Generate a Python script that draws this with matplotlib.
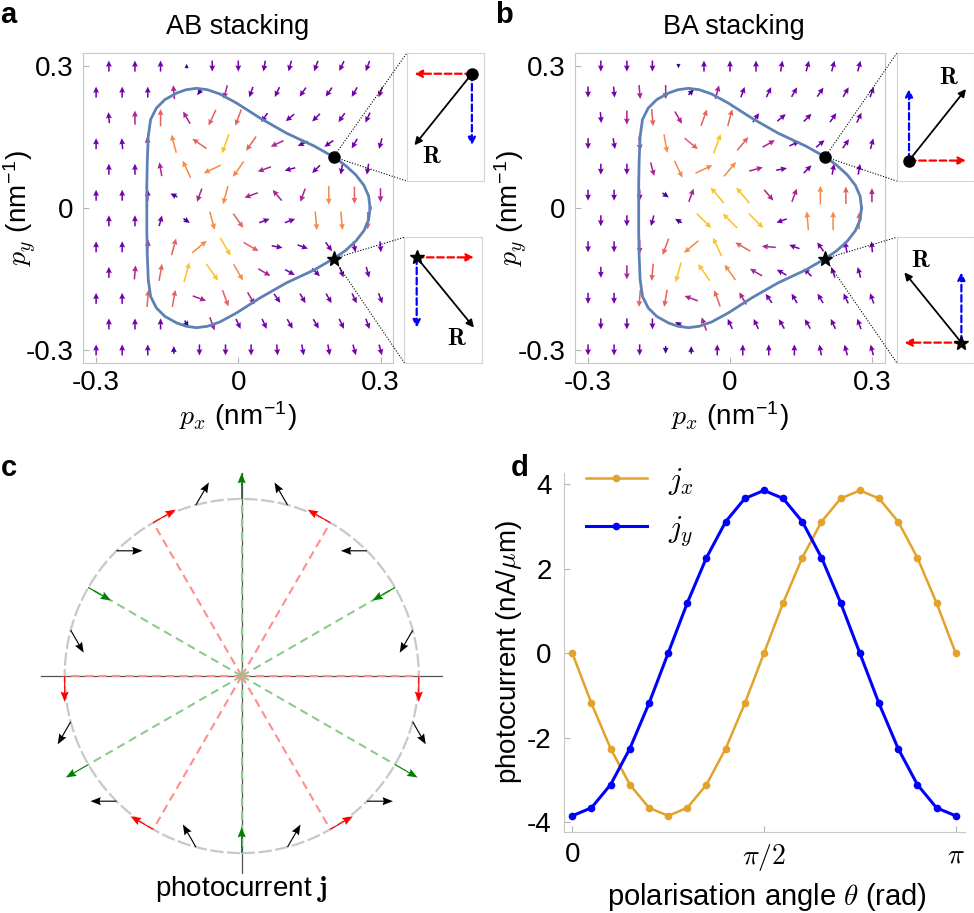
import numpy as np
import matplotlib
matplotlib.use('Agg')
import matplotlib.pyplot as plt
from matplotlib.patches import FancyArrowPatch, Circle

plt.rcParams['font.family'] = ['Liberation Sans', 'DejaVu Sans']
plt.rcParams['mathtext.fontset'] = 'cm'

W, H = 974, 913

# colour level of each arrow
t, b, P, M, R, O, Y = 0.03, 0.10, 0.22, 0.38, 0.60, 0.72, 0.87

# staggered sampling grid of panels a and b (rows from top to bottom)
row_y = [0.3, 0.245, 0.191, 0.136, 0.082, 0.027, -0.027, -0.082, -0.136, -0.191, -0.245, -0.3]
even_x = [-0.273, -0.218, -0.164, -0.109, -0.055, 0.0, 0.055, 0.109, 0.164, 0.218, 0.273]
odd_x = [-0.3, -0.245, -0.191, -0.136, -0.082, -0.027, 0.027, 0.082, 0.136, 0.191, 0.245, 0.3]

# arrow directions (deg) for AB stacking
ab_angle = [
    [90, 90, 90, 90, 270, 270, 260, 255, 250, 245, 250],
    [90, 90, 90, 95, 235, 255, 250, 245, 235, 235, 240, 250],
    [95, 90, 90, 120, 245, 250, 235, 220, 225, 235, 245],
    [90, 95, 95, 105, 145, 250, 235, 205, 205, 215, 240, 255],
    [90, 90, 100, 115, 205, 235, 200, 195, 225, 260, 260],
    [90, 90, 90, 155, 250, 255, 200, 130, 250, 270, 270, 270],
    [90, 90, 75, 325, 285, 305, 20, 20, 275, 275, 270],
    [90, 90, 85, 75, 40, 300, 330, 350, 340, 305, 280, 275],
    [90, 85, 80, 75, 305, 300, 330, 330, 315, 290, 285],
    [90, 90, 85, 80, 340, 290, 300, 305, 300, 300, 295, 290],
    [90, 90, 90, 300, 290, 295, 295, 300, 300, 295, 290],
    [90, 90, 90, 90, 270, 270, 270, 275, 280, 280, 285, 285],
]
ab_level = [
    [P, P, P, t, P, P, P, P, P, P, P],
    [P, P, P, M, b, M, P, P, P, P, P, P],
    [P, M, R, M, R, R, P, P, P, P, P],
    [P, P, M, O, R, Y, R, M, P, P, P, P],
    [P, P, M, O, O, O, M, P, P, P, P],
    [P, P, P, b, M, O, M, M, M, O, R, M],
    [P, P, P, b, O, R, P, P, O, O, R],
    [P, P, M, R, O, Y, R, P, P, P, P, P],
    [P, M, R, Y, Y, O, M, P, P, P, P],
    [P, P, R, R, M, R, M, P, P, P, P, P],
    [P, P, P, b, M, P, P, P, P, P, P],
    [P, P, P, b, P, P, P, P, P, P, P, P],
]

# arrow directions (deg) for BA stacking
ba_angle = [
    [270, 270, 270, 270, 90, 90, 90, 80, 75, 75, 75],
    [270, 275, 275, 270, 45, 75, 70, 65, 60, 55, 60, 70],
    [275, 270, 275, 300, 70, 75, 55, 40, 45, 55, 65],
    [270, 280, 275, 280, 320, 70, 50, 30, 25, 40, 55, 75],
    [270, 270, 285, 295, 25, 50, 15, 10, 45, 80, 80],
    [270, 270, 270, 325, 70, 130, 130, 310, 70, 90, 90, 90],
    [270, 270, 255, 150, 315, 135, 315, 200, 95, 90, 90],
    [270, 270, 270, 250, 220, 115, 150, 175, 160, 125, 100, 95],
    [270, 270, 265, 255, 125, 125, 150, 150, 135, 110, 105],
    [270, 270, 265, 260, 160, 110, 120, 125, 120, 120, 115, 110],
    [270, 270, 270, 150, 110, 115, 115, 120, 120, 115, 110],
    [270, 270, 270, 270, 90, 90, 90, 90, 90, 100, 105, 105],
]
ba_level = [
    [P, P, P, t, P, P, P, P, P, P, P],
    [P, P, M, M, b, M, P, P, P, P, P, P],
    [P, M, R, M, R, R, P, P, P, P, P],
    [P, P, M, O, R, Y, R, M, P, P, P, P],
    [P, P, M, O, O, O, M, P, P, P, P],
    [P, P, P, b, M, Y, Y, M, M, O, R, M],
    [P, P, P, b, Y, Y, Y, P, O, O, R],
    [P, P, M, R, O, Y, R, M, P, P, P, P],
    [P, M, R, Y, Y, O, M, P, P, P, P],
    [P, P, R, R, M, R, M, P, P, P, P, P],
    [P, P, P, b, M, P, P, P, P, P, P],
    [P, P, P, b, b, P, P, P, P, P, P, P],
]

# Fermi contour (same in both panels)
contour_x = [0.278, 0.275, 0.265, 0.248, 0.226, 0.201, 0.160, 0.102, 0.046, -0.004, -0.039,
             -0.065, -0.088, -0.110, -0.130, -0.155, -0.173, -0.185, -0.190, -0.192, -0.193,
             -0.193, -0.193, -0.192, -0.190, -0.185, -0.173, -0.155, -0.130, -0.110, -0.088,
             -0.065, -0.039, -0.004, 0.046, 0.102, 0.160, 0.201, 0.226, 0.248, 0.265, 0.275, 0.278]
contour_y = [0.0, 0.025, 0.048, 0.070, 0.090, 0.108, 0.131, 0.158, 0.190, 0.222, 0.241,
             0.250, 0.253, 0.250, 0.243, 0.229, 0.211, 0.187, 0.151, 0.100, 0.050,
             0.0, -0.050, -0.100, -0.151, -0.187, -0.211, -0.229, -0.243, -0.250, -0.253,
             -0.250, -0.241, -0.222, -0.190, -0.158, -0.131, -0.107, -0.090, -0.070, -0.048, -0.025, 0.0]
dot_p = (0.201, 0.108)
star_p = (0.201, -0.107)

# inset sketches: sign of x (red) and y (blue) components of R
inset_sx = [-1, 1, 1, -1]
inset_sy = [-1, -1, 1, 1]
inset_mark = ['o', '*', 'o', '*']

# panel c: polarisation angle on the circle and photocurrent direction (deg)
pol_angle = [0, 15, 30, 45, 60, 75, 90, 105, 120, 135, 150, 165,
             180, 195, 210, 225, 240, 255, 270, 285, 300, 315, 330, 345]
j_dir = [270, 240, 210, 180, 150, 120, 90, 60, 30, 0, 330, 300,
         270, 240, 210, 180, 150, 120, 90, 60, 30, 0, 330, 300]

# panel d: photocurrent vs polarisation angle
theta = np.linspace(0, np.pi, 21)
jx = [0.0, -1.19, -2.26, -3.11, -3.66, -3.85, -3.66, -3.11, -2.26, -1.19, 0.0,
      1.19, 2.26, 3.11, 3.66, 3.85, 3.66, 3.11, 2.26, 1.19, 0.0]
jy = [-3.85, -3.66, -3.11, -2.26, -1.19, 0.0, 1.19, 2.26, 3.11, 3.66, 3.85,
      3.66, 3.11, 2.26, 1.19, 0.0, -1.19, -2.26, -3.11, -3.66, -3.85]

fig = plt.figure(figsize=(W / 100, H / 100), dpi=100)


def px_axes(left, top, width, height):
    # axes placed with pixel coordinates measured from the top-left corner
    return fig.add_axes([left / W, 1 - (top + height) / H, width / W, height / H])


def draw_field(ax, angles, levels):
    xs, ys, us, vs, cs = [], [], [], [], []
    for k, yv in enumerate(row_y):
        cols = even_x if k % 2 == 0 else odd_x
        for xv, a, m in zip(cols, angles[k], levels[k]):
            length = 0.046 * m ** 0.45
            xs.append(xv)
            ys.append(yv)
            us.append(length * np.cos(np.radians(a)))
            vs.append(length * np.sin(np.radians(a)))
            cs.append(plt.cm.plasma(m))
    ax.quiver(xs, ys, us, vs, color=cs, angles='xy', scale_units='xy', scale=1,
              pivot='middle', width=0.005, headwidth=3.8, headlength=4.0,
              headaxislength=3.6, zorder=2)
    ax.plot(contour_x, contour_y, color='#5e81b5', lw=2, zorder=3)
    ax.plot(*dot_p, 'o', color='k', ms=8, zorder=4)
    ax.plot(*star_p, '*', color='k', ms=11, zorder=4)
    ax.set_xlim(-0.327, 0.327)
    ax.set_ylim(-0.327, 0.327)
    ax.set_xticks([-0.3, 0, 0.3])
    ax.set_xticklabels(['-0.3', '0', '0.3'])
    ax.set_yticks([-0.3, 0, 0.3])
    ax.set_yticklabels(['-0.3', '0', '0.3'])
    for s in ax.spines.values():
        s.set_color('#c8c8c8')
    ax.tick_params(direction='in', length=4, color='#b4b4b4', labelsize=20)
    ax.tick_params(axis='x', pad=5)
    ax.tick_params(axis='y', pad=7)


def draw_inset(box, sx, sy, marker):
    ia = px_axes(*box)
    ia.set_xlim(0, 1)
    ia.set_ylim(0, 1)
    ia.set_xticks([])
    ia.set_yticks([])
    for s in ia.spines.values():
        s.set_color('#d4d4d4')
    ox, oy = 0.5 - 0.34 * sx, 0.5 - 0.34 * sy
    rx, ry = 0.74 * sx, 0.56 * sy
    dashed = dict(arrowstyle='-|>', mutation_scale=11, lw=1.6, linestyle=(0, (3, 1.6)),
                  shrinkA=0, shrinkB=0)
    ia.add_patch(FancyArrowPatch((ox, oy), (ox + rx, oy), color='red', **dashed))
    ia.add_patch(FancyArrowPatch((ox, oy), (ox, oy + ry), color='blue', **dashed))
    ia.add_patch(FancyArrowPatch((ox, oy), (ox + rx, oy + ry), arrowstyle='-|>',
                                 mutation_scale=11, lw=1.3, color='k', shrinkA=0, shrinkB=0))
    ia.plot(ox, oy, marker, color='k', ms=8 if marker == 'o' else 10, zorder=5)
    ia.text(ox + rx - 0.22 * sx, oy + ry + 0.09 * sy, r'$\mathbf{R}$', fontsize=17,
            ha='center', va='center')


# ---- panels a and b ----
ax_a = px_axes(83.3, 53.3, 310, 309.4)
draw_field(ax_a, ab_angle, ab_level)
ax_b = px_axes(575.3, 53.3, 309.4, 309.4)
draw_field(ax_b, ba_angle, ba_level)

boxes = [(406.7, 53.3, 77.6, 127.7), (404.3, 237.3, 77.4, 125.4),
         (896.7, 53.3, 77.0, 127.7), (896.7, 237.3, 77.0, 125.4)]
for box, sx, sy, mk in zip(boxes, inset_sx, inset_sy, inset_mark):
    draw_inset(box, sx, sy, mk)

fig.text(238 / W, 1 - 27 / H, 'AB stacking', fontsize=19.5, ha='center', va='center')
fig.text(734 / W, 1 - 27 / H, 'BA stacking', fontsize=19.5, ha='center', va='center')
for xc in [238, 730]:
    fig.text(xc / W, 1 - 416 / H, r'$p_x$ (nm$^{\mathregular{-1}}$)', fontsize=20,
             ha='center', va='center')
for xc in [20, 511]:
    fig.text(xc / W, 1 - 208 / H, r'$p_y$ (nm$^{\mathregular{-1}}$)', fontsize=20,
             ha='center', va='center', rotation=90)

# ---- panel c ----
ax_c = px_axes(20.2, 454.5, 443, 443)
ax_c.set_xlim(-1.251, 1.251)
ax_c.set_ylim(-1.251, 1.251)
ax_c.axis('off')
ax_c.plot([-1.136, 1.13], [0, 0], color='#555555', lw=0.9, zorder=1)
ax_c.plot([0, 0], [-1.113, 1.147], color='#555555', lw=0.9, zorder=1)
ax_c.add_patch(Circle((0, 0), 1, fill=False, ec='#c8c8c8', lw=1.6, ls=(0, (6, 1.6)), zorder=1))
arrow_cols = []
for phi in pol_angle:
    if phi % 60 == 0:
        col, line_col = 'red', '#ff8e8e'
    elif phi % 30 == 0:
        col, line_col = 'green', '#8ccb8c'
    else:
        col, line_col = 'black', None
    arrow_cols.append(col)
    if line_col:
        ax_c.plot([0, np.cos(np.radians(phi))], [0, np.sin(np.radians(phi))],
                  color=line_col, lw=1.5, ls=(0, (4, 2.5)), zorder=2)
phi_r = np.radians(pol_angle)
dir_r = np.radians(j_dir)
ax_c.quiver(np.cos(phi_r), np.sin(phi_r), 0.147 * np.cos(dir_r), 0.147 * np.sin(dir_r),
            color=arrow_cols, angles='xy', scale_units='xy', scale=1, pivot='tail',
            width=0.0026, headwidth=7, headlength=9, headaxislength=8, zorder=3)
fig.text(241 / W, 1 - 889 / H, r'photocurrent $\mathbf{j}$', fontsize=20,
         ha='center', va='center')

# ---- panel d ----
ax_d = px_axes(564.3, 472.7, 400.7, 359.6)
ax_d.plot(theta, jx, '-o', color='#e3a22a', lw=1.8, ms=4.5, label=r'$j_x$')
ax_d.plot(theta, jy, '-o', color='#0000ff', lw=2.2, ms=4.5, label=r'$j_y$')
ax_d.set_xlim(-0.0656, 3.218)
ax_d.set_ylim(-4.24, 4.27)
ax_d.set_xticks([0, np.pi / 2, np.pi])
ax_d.set_xticklabels(['0', r'$\pi/2$', r'$\pi$'])
ax_d.set_yticks([-4, -2, 0, 2, 4])
ax_d.set_yticklabels(['-4', '-2', '0', '2', '4'])
for side in ['top', 'right']:
    ax_d.spines[side].set_visible(False)
for side in ['left', 'bottom']:
    ax_d.spines[side].set_color('#c8c8c8')
ax_d.tick_params(direction='in', length=4, color='#b4b4b4', labelsize=20)
ax_d.tick_params(axis='y', pad=9)
ax_d.tick_params(axis='x', pad=7)
ax_d.legend(loc='upper left', bbox_to_anchor=(0.054, 1.02), frameon=False, fontsize=22,
            handlelength=2.0, handletextpad=0.7, labelspacing=0.55, borderpad=0,
            borderaxespad=0)
fig.text(767 / W, 1 - 897 / H, r'polarisation angle $\theta$ (rad)', fontsize=21,
         ha='center', va='center')
fig.text(509 / W, 1 - 652 / H, r'photocurrent (nA/$\mu$m)', fontsize=20,
         ha='center', va='center', rotation=90)

# panel letters
for letter, xc, yc in [('a', 8, 15), ('b', 504, 15), ('c', 9, 468), ('d', 520, 468)]:
    fig.text(xc / W, 1 - yc / H, letter, fontsize=21, weight='bold', ha='center', va='center')

# ---- dotted connectors from the marked points to the inset boxes ----
ov = fig.add_axes([0, 0, 1, 1])
ov.set_xlim(0, W)
ov.set_ylim(H, 0)
ov.axis('off')
to_ov = ov.transData.inverted()
for ax, pair in [(ax_a, boxes[:2]), (ax_b, boxes[2:])]:
    for pt, (bl, bt, bw, bh) in zip([dot_p, star_p], pair):
        px, py = to_ov.transform(ax.transData.transform(pt))
        for cy in [bt, bt + bh]:
            ov.plot([px, bl], [py, cy], color='k', lw=0.8, ls=(0, (1, 1.5)))

fig.savefig('out.png', dpi=100)
